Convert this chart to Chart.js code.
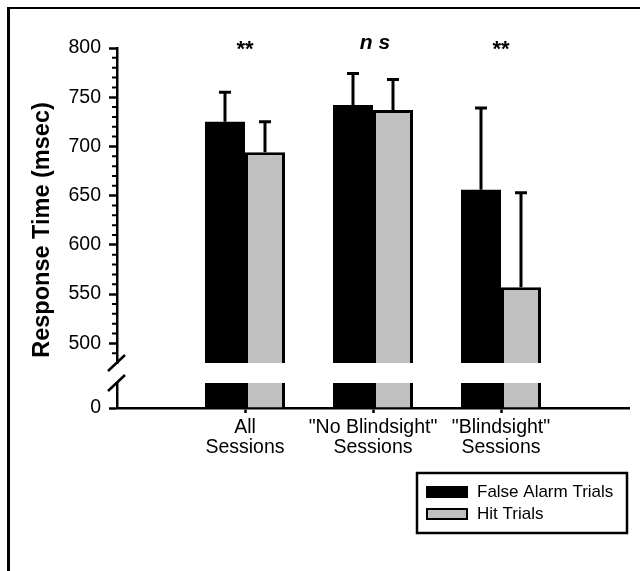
<!DOCTYPE html>
<html>
<head>
<meta charset="utf-8">
<script src="https://cdn.jsdelivr.net/npm/chart.js@4.4.1/dist/chart.umd.min.js"></script>
<style>
  html, body { margin: 0; padding: 0; background: #fff; overflow: hidden; }
  #frame { position: absolute; left: 7px; top: 7px; width: 1000px; height: 1000px;
           border-left: 3px solid #000; border-top: 2px solid #000; }
  #chart { position: absolute; left: 0; top: 0; }
</style>
</head>
<body>
<div id="frame"></div>
<canvas id="chart" width="640" height="571"></canvas>
<script>
// values (msec)
const categories = [['All', 'Sessions'], ['"No Blindsight"', 'Sessions'], ['"Blindsight"', 'Sessions']];
const falseAlarm = [725, 742, 656];
const falseAlarmErr = [30, 32, 83];
const hit = [694, 737, 557];
const hitErr = [31, 31, 96];
const sigLabels = ['**', 'n s', '**'];
const yTicks = [500, 550, 600, 650, 700, 750, 800];
const seriesNames = ['False Alarm Trials', 'Hit Trials'];

const FONT = '"Liberation Sans", Arial, Helvetica, sans-serif';
const BLACK = '#000000';
const GRAY = '#c0c0c0';
const lowMax = 25; // height of the short segment under the axis break

// blank slots at both ends so the groups sit where they do in the figure
const labels = [''].concat(categories, ['']);
const pad = arr => [null].concat(arr, [null]);

// draws the bits Chart.js has no option for: axis break, minor ticks,
// error bars, significance marks, axis title and the boxed legend
const extras = {
  id: 'extras',
  afterDatasetsDraw(chart) {
    const ctx = chart.ctx;
    const top = chart.scales.yTop;
    const bot = chart.scales.yBot;
    const xs = chart.scales.x;
    const ax = top.right;
    ctx.save();
    ctx.strokeStyle = BLACK;
    ctx.fillStyle = BLACK;
    ctx.lineWidth = 2;

    // minor ticks every 10
    ctx.beginPath();
    for (let v = top.min + 10; v < top.max; v += 10) {
      if (yTicks.includes(v)) continue;
      const y = top.getPixelForValue(v);
      ctx.moveTo(ax - 5, y);
      ctx.lineTo(ax, y);
    }
    ctx.stroke();

    // break marks
    ctx.lineWidth = 2.5;
    ctx.beginPath();
    [top.bottom, bot.top].forEach(y => {
      ctx.moveTo(ax - 9, y + 8);
      ctx.lineTo(ax + 8, y - 8);
    });
    ctx.stroke();

    // error bars (upper half only)
    ctx.lineWidth = 3;
    chart.data.datasets.forEach((ds, d) => {
      if (!ds.errors) return;
      const meta = chart.getDatasetMeta(d);
      meta.data.forEach((bar, i) => {
        const v = ds.data[i];
        const e = ds.errors[i];
        if (v == null || e == null) return;
        const yEnd = top.getPixelForValue(v + e);
        ctx.beginPath();
        ctx.moveTo(bar.x, bar.y);
        ctx.lineTo(bar.x, yEnd);
        ctx.moveTo(bar.x - 6, yEnd);
        ctx.lineTo(bar.x + 6, yEnd);
        ctx.stroke();
      });
    });

    // significance marks
    ctx.textAlign = 'center';
    ctx.textBaseline = 'alphabetic';
    sigLabels.forEach((s, i) => {
      const x = xs.getPixelForValue(i + 1);
      if (s === '**') {
        ctx.font = 'bold 22px ' + FONT;
        ctx.fillText(s, x, chart.chartArea.top + 8);
      } else {
        ctx.font = 'italic bold 21px ' + FONT;
        ctx.fillText(s, x + 2, chart.chartArea.top + 1);
      }
    });

    // y axis title
    ctx.save();
    ctx.translate(43, (chart.chartArea.top + chart.chartArea.bottom) / 2 + 2);
    ctx.rotate(-Math.PI / 2);
    ctx.font = 'bold 23.5px ' + FONT;
    ctx.textBaseline = 'middle';
    ctx.fillText('Response Time (msec)', 0, 0);
    ctx.restore();

    // legend box
    const lx = 417, ly = 473, lw = 210, lh = 60;
    ctx.lineWidth = 2.5;
    ctx.strokeRect(lx, ly, lw, lh);
    ctx.font = '17px ' + FONT;
    ctx.textAlign = 'left';
    ctx.textBaseline = 'middle';
    ctx.lineWidth = 2;
    chart.data.datasets.filter(ds => ds.errors).forEach((ds, k) => {
      const cy = ly + 19 + k * 22;
      ctx.fillStyle = ds.backgroundColor;
      ctx.fillRect(lx + 10, cy - 5, 40, 10);
      ctx.strokeRect(lx + 10, cy - 5, 40, 10);
      ctx.fillStyle = BLACK;
      ctx.fillText(ds.label, lx + 60, cy);
    });
    ctx.restore();
  }
};

const barStyle = {
  borderColor: BLACK,
  borderSkipped: 'start',
  categoryPercentage: 0.625,
  barPercentage: 1.0
};
const lowBorder = { top: 0, left: 3, right: 3, bottom: 0 };

const ctx = document.getElementById('chart').getContext('2d');
const chart = new Chart(ctx, {
  type: 'bar',
  data: {
    labels: labels,
    datasets: [
      // black bars need no outline, and leaving it off avoids a seam at the top
      Object.assign({ label: seriesNames[0], data: pad(falseAlarm), errors: pad(falseAlarmErr),
        backgroundColor: BLACK, borderWidth: 0, yAxisID: 'yTop', stack: 'fa' }, barStyle),
      Object.assign({ label: seriesNames[1], data: pad(hit), errors: pad(hitErr),
        backgroundColor: GRAY, borderWidth: 3, yAxisID: 'yTop', stack: 'hit' }, barStyle),
      Object.assign({ label: seriesNames[0] + ' (low)', data: pad(falseAlarm.map(v => Math.min(v, lowMax))),
        backgroundColor: BLACK, borderWidth: 0, yAxisID: 'yBot', stack: 'fa' }, barStyle),
      Object.assign({ label: seriesNames[1] + ' (low)', data: pad(hit.map(v => Math.min(v, lowMax))),
        backgroundColor: GRAY, borderWidth: lowBorder, yAxisID: 'yBot', stack: 'hit' }, barStyle)
    ]
  },
  options: {
    responsive: false,
    animation: false,
    layout: { padding: { top: 48, right: 11, bottom: 0, left: 0 } },
    plugins: { legend: { display: false }, tooltip: { enabled: false } },
    scales: {
      x: {
        type: 'category',
        offset: false,
        grid: {
          offset: false, drawOnChartArea: false, tickLength: 5, tickWidth: 2.5,
          tickColor: c => (c.index === 0 || c.index === labels.length - 1) ? 'rgba(0,0,0,0)' : BLACK
        },
        border: { color: BLACK, width: 2.5 },
        ticks: { color: BLACK, font: { family: FONT, size: 19.5, lineHeight: 1.05 }, padding: 4, autoSkip: false, maxRotation: 0 },
        afterFit: s => { s.height = 163; }
      },
      yBot: {
        type: 'linear', position: 'left', stack: 'y', stackWeight: 25,
        min: 0, max: lowMax,
        afterBuildTicks: s => { s.ticks = [{ value: 0 }]; },
        grid: { drawOnChartArea: false, tickLength: 8, tickWidth: 2.5, tickColor: BLACK },
        border: { color: BLACK, width: 2.5 },
        ticks: { color: BLACK, font: { family: FONT, size: 19.5 }, padding: 8 },
        afterFit: s => { s.width = 117; }
      },
      yGap: {
        type: 'linear', position: 'left', stack: 'y', stackWeight: 20,
        min: 0, max: 1,
        grid: { display: false },
        border: { display: false },
        ticks: { display: false },
        afterFit: s => { s.width = 117; }
      },
      yTop: {
        type: 'linear', position: 'left', stack: 'y', stackWeight: 315,
        min: 480, max: 800,
        afterBuildTicks: s => { s.ticks = yTicks.map(v => ({ value: v })); },
        grid: { drawOnChartArea: false, tickLength: 8, tickWidth: 2.5, tickColor: BLACK },
        border: { color: BLACK, width: 2.5 },
        ticks: { color: BLACK, font: { family: FONT, size: 19.5 }, padding: 8 },
        afterFit: s => { s.width = 117; }
      }
    }
  },
  plugins: [extras]
});
</script>
</body>
</html>
